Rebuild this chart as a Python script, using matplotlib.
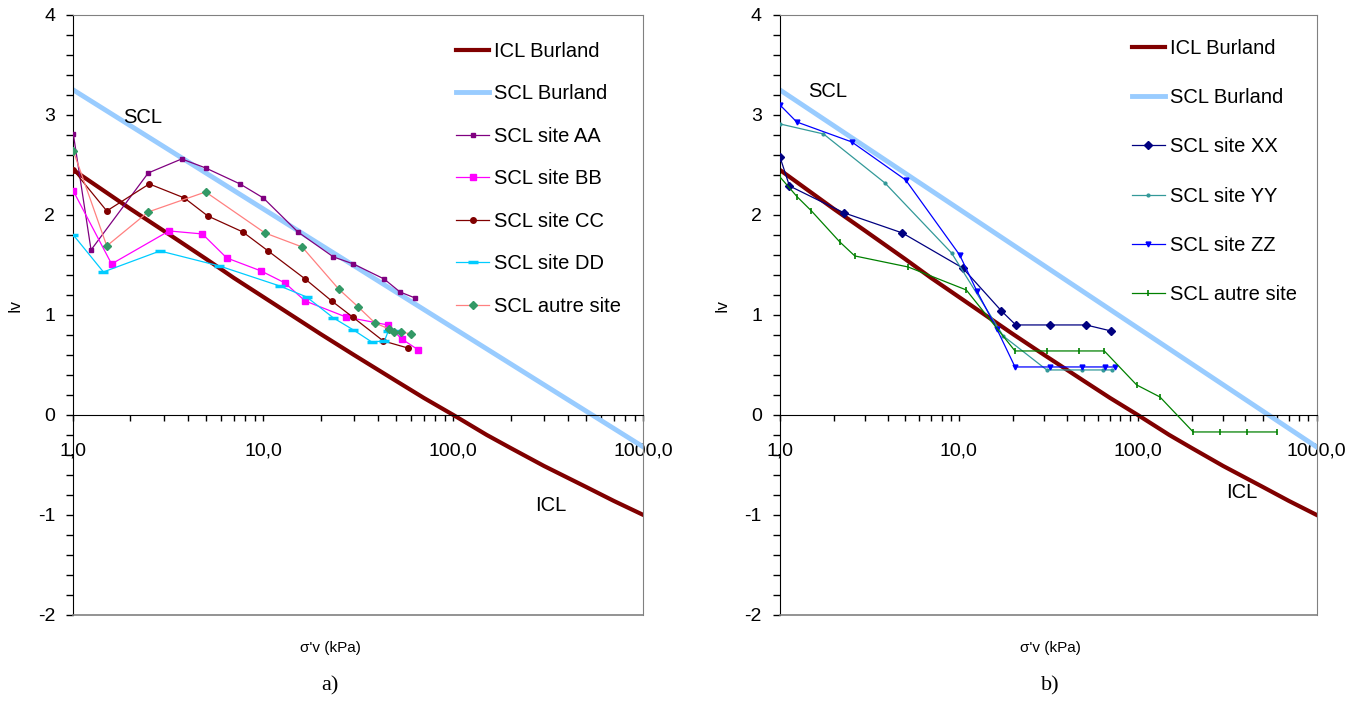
import numpy as np
import matplotlib.pyplot as plt
from matplotlib.ticker import FixedLocator, FixedFormatter, NullFormatter

plt.rcParams['font.family'] = ['Liberation Sans', 'DejaVu Sans']
plt.rcParams['axes.unicode_minus'] = False

# Burland reference lines (sigma'v in kPa, Iv)
burland_x = [1, 2, 3, 5, 7, 10, 20, 30, 50, 70, 100, 150, 200, 300, 500, 700, 1000]
icl_iv = [2.45, 2.06, 1.84, 1.56, 1.37, 1.18, 0.81, 0.60, 0.34, 0.17, 0.0, -0.20, -0.33,
          -0.51, -0.72, -0.86, -1.0]
scl_x = [1, 1000]
scl_iv = [3.25, -0.32]

# panel a) sites
aa_x = [1, 1.24, 2.48, 3.72, 4.97, 7.54, 10, 15.2, 23.4, 29.8, 43.2, 52.4, 62.9]
aa_iv = [2.81, 1.65, 2.42, 2.56, 2.47, 2.31, 2.17, 1.83, 1.58, 1.51, 1.36, 1.23, 1.17]
bb_x = [1, 1.59, 3.19, 4.78, 6.42, 9.73, 13.0, 16.6, 27.2, 45.2, 53.5, 65.5]
bb_iv = [2.24, 1.51, 1.84, 1.81, 1.57, 1.44, 1.32, 1.14, 0.98, 0.90, 0.76, 0.65]
cc_x = [1, 1.5, 2.51, 3.84, 5.1, 7.8, 10.6, 16.6, 22.9, 29.5, 42.8, 57.5]
cc_iv = [2.45, 2.04, 2.31, 2.17, 1.99, 1.83, 1.64, 1.36, 1.14, 0.98, 0.74, 0.67]
dd_x = [1, 1.44, 2.86, 5.87, 12.2, 16.9, 23.4, 29.8, 37.2, 43.4, 45.5, 50.2]
dd_iv = [1.80, 1.43, 1.64, 1.49, 1.29, 1.18, 0.97, 0.85, 0.73, 0.74, 0.84, 0.84]
autre_a_x = [1, 1.5, 2.48, 4.97, 10.2, 16.0, 24.9, 31.6, 38.7, 45.9, 49, 53, 59.9]
autre_a_iv = [2.64, 1.69, 2.03, 2.23, 1.82, 1.68, 1.26, 1.08, 0.92, 0.86, 0.83, 0.83, 0.81]

# panel b) sites
xx_x = [1, 1.13, 2.29, 4.83, 10.5, 17.3, 20.8, 32.3, 51.4, 70.8]
xx_iv = [2.58, 2.29, 2.02, 1.82, 1.47, 1.04, 0.90, 0.90, 0.90, 0.84]
yy_x = [1, 1.75, 3.86, 9.1, 17.7, 31, 48.6, 63.7, 71.5]
yy_iv = [2.91, 2.81, 2.32, 1.62, 0.79, 0.45, 0.45, 0.45, 0.45]
zz_x = [1, 1.24, 2.52, 5.04, 10.1, 12.6, 16.3, 20.6, 32.3, 48.6, 65.6, 74.3]
zz_iv = [3.10, 2.93, 2.73, 2.35, 1.60, 1.24, 0.86, 0.48, 0.48, 0.48, 0.48, 0.48]
autre_b_x = [1, 1.25, 1.5, 2.16, 2.62, 5.2, 11, 20.6, 31, 47.1, 65, 98.6, 133, 204, 288, 406, 597]
autre_b_iv = [2.38, 2.18, 2.04, 1.73, 1.59, 1.48, 1.25, 0.64, 0.64, 0.64, 0.64, 0.30, 0.18,
              -0.17, -0.17, -0.17, -0.17]

x_ticks = [1, 10, 100, 1000]
x_ticklabels = ['1,0', '10,0', '100,0', '1000,0']
y_ticks = [-2, -1, 0, 1, 2, 3, 4]


def setup_axes(ax):
    ax.set_xscale('log')
    ax.set_xlim(1, 1000)
    ax.set_ylim(-2, 4)
    ax.spines['bottom'].set_position(('data', 0))
    ax.spines['bottom'].set_color('black')
    ax.spines['left'].set_color('black')
    for s in ['top', 'right']:
        ax.spines[s].set_color('#808080')
    ax.axhline(-2, color='#808080', lw=1.2, clip_on=False, zorder=5)
    ax.xaxis.set_major_locator(FixedLocator(x_ticks))
    ax.xaxis.set_major_formatter(FixedFormatter(x_ticklabels))
    minors = [m * 10 ** d for d in range(3) for m in range(2, 10)]
    ax.xaxis.set_minor_locator(FixedLocator(minors))
    ax.xaxis.set_minor_formatter(NullFormatter())
    ax.yaxis.set_major_locator(FixedLocator(y_ticks))
    ax.yaxis.set_minor_locator(FixedLocator(np.arange(-2, 4.01, 0.2)))
    ax.tick_params(axis='x', which='both', direction='out', length=4, width=1, pad=16,
                   labelsize=14)
    ax.tick_params(axis='y', which='both', direction='out', length=5, width=1, pad=8,
                   labelsize=14)


fig = plt.figure(figsize=(13.65, 7.08), dpi=100)
ax1 = fig.add_axes([0.0537, 0.1314, 0.4176, 0.8475])
ax2 = fig.add_axes([0.5714, 0.1314, 0.3932, 0.8475])

for ax in (ax1, ax2):
    setup_axes(ax)
    ax.plot(burland_x, icl_iv, color='#800000', lw=3.0, label='ICL Burland', zorder=2)
    ax.plot(scl_x, scl_iv, color='#99CCFF', lw=3.5, label='SCL Burland', zorder=2)

ax1.plot(aa_x, aa_iv, color='#800080', lw=0.9, marker='s', ms=3, label='SCL site AA', zorder=3)
ax1.plot(bb_x, bb_iv, color='#FF00FF', lw=0.9, marker='s', ms=5, label='SCL site BB', zorder=3)
ax1.plot(cc_x, cc_iv, color='#800000', lw=0.9, marker='o', ms=4, label='SCL site CC', zorder=3)
ax1.plot(dd_x, dd_iv, color='#00CCFF', lw=0.9, marker='_', ms=7, mew=2.5, label='SCL site DD',
         zorder=3)
ax1.plot(autre_a_x, autre_a_iv, color='#FF8080', lw=0.9, marker='D', ms=4.5, mfc='#339966',
         mec='#339966', label='SCL autre site', zorder=3)

ax2.plot(xx_x, xx_iv, color='#000080', lw=0.9, marker='D', ms=4.5, label='SCL site XX', zorder=3)
ax2.plot(yy_x, yy_iv, color='#339999', lw=0.9, marker='.', ms=4, label='SCL site YY', zorder=3)
ax2.plot(zz_x, zz_iv, color='#0000FF', lw=0.9, marker='v', ms=3.5, label='SCL site ZZ', zorder=3)
ax2.plot(autre_b_x, autre_b_iv, color='#008000', lw=0.9, marker='|', ms=5, mew=1.2,
         label='SCL autre site', zorder=3)

ax1.legend(loc='upper left', bbox_to_anchor=(0.672, 0.955), frameon=False, fontsize=14.5,
           handlelength=1.64, handletextpad=0.25, labelspacing=1.165, borderpad=0,
           borderaxespad=0)
ax2.legend(loc='upper left', bbox_to_anchor=(0.655, 0.960), frameon=False, fontsize=14.5,
           handlelength=1.64, handletextpad=0.25, labelspacing=1.50, borderpad=0,
           borderaxespad=0)

ax1.text(2.33, 2.97, 'SCL', fontsize=14.5, ha='center', va='center')
ax1.text(327, -0.91, 'ICL', fontsize=14.5, ha='center', va='center')
ax2.text(1.85, 3.23, 'SCL', fontsize=14.5, ha='center', va='center')
ax2.text(382, -0.78, 'ICL', fontsize=14.5, ha='center', va='center')

for xl in (15, 722):
    fig.text(xl / 1365, 1 - 305 / 708, 'Iv', rotation=90, fontsize=12, ha='center', va='center')

fig.text(330 / 1365, 1 - 648 / 708, "σ'v (kPa)", fontsize=11, ha='center', va='center')
fig.text(1050 / 1365, 1 - 648 / 708, "σ'v (kPa)", fontsize=11, ha='center', va='center')
fig.text(330 / 1365, 1 - 686 / 708, 'a)', fontsize=16, family='Liberation Serif',
         ha='center', va='center')
fig.text(1050 / 1365, 1 - 686 / 708, 'b)', fontsize=16, family='Liberation Serif',
         ha='center', va='center')

fig.savefig('out.png', dpi=100)
